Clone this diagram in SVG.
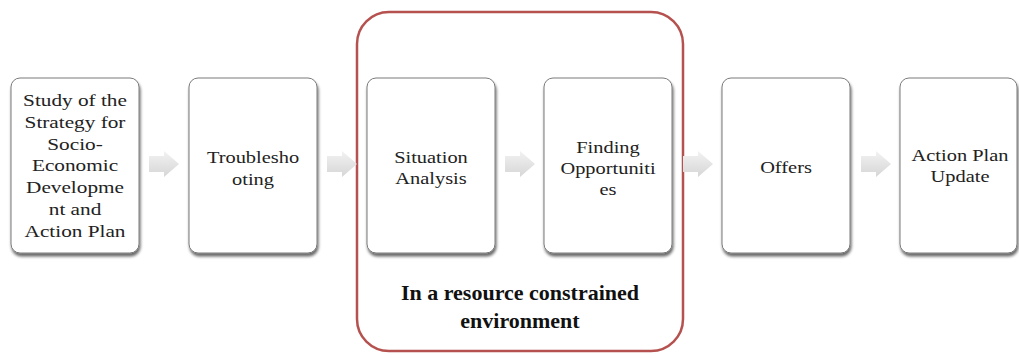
<svg xmlns="http://www.w3.org/2000/svg" width="1019" height="358" viewBox="0 0 1019 358">
<style>
.box{fill:#fff;stroke:#7a7a7a;stroke-width:1;filter:url(#sh)}
.t{font-size:17px;fill:#222;text-anchor:middle}
.b{font-size:22px;font-weight:bold;fill:#111;text-anchor:middle}
.arr{fill:url(#ag)}
</style>
<defs>
<filter id="sh" x="-10%" y="-10%" width="125%" height="125%">
<feGaussianBlur in="SourceAlpha" stdDeviation="1.5"/>
<feOffset dx="1" dy="2.5" result="o"/>
<feComponentTransfer><feFuncA type="linear" slope="0.6"/></feComponentTransfer>
<feMerge><feMergeNode/><feMergeNode in="SourceGraphic"/></feMerge>
</filter>
<linearGradient id="ag" x1="0" y1="0" x2="0" y2="1">
<stop offset="0" stop-color="#f2f2f2"/>
<stop offset="1" stop-color="#d6d6d6"/>
</linearGradient>
<path id="ar" d="M0,-8 H15 V-13 L30,0 L15,13 V8 H0 Z"/>
</defs>
<rect width="1019" height="358" fill="#fff"/>
<rect x="357" y="12" width="326" height="339" rx="32" fill="none" stroke="#b5524f" stroke-width="2.5"/>
<g id="connectors">
<use href="#ar" class="arr" x="149" y="164"/>
<use href="#ar" class="arr" x="327" y="164"/>
<use href="#ar" class="arr" x="505" y="164"/>
<use href="#ar" class="arr" x="683" y="164"/>
<use href="#ar" class="arr" x="861" y="164"/>
</g>
<g font-family="'Liberation Serif', 'Times New Roman', serif">
<g id="n1">
<rect class="box" x="11" y="78" width="128" height="175" rx="9"/>
<g transform="translate(75,0) scale(1.25,1)">
<text class="t" x="0" y="106">Study of the</text>
<text class="t" x="0" y="128">Strategy for</text>
<text class="t" x="0" y="150">Socio-</text>
<text class="t" x="0" y="171">Economic</text>
<text class="t" x="0" y="193">Developme</text>
<text class="t" x="0" y="215">nt and</text>
<text class="t" x="0" y="237">Action Plan</text>
</g>
</g>
<g id="n2">
<rect class="box" x="189" y="78" width="128" height="175" rx="9"/>
<g transform="translate(253,0) scale(1.2,1)">
<text class="t" x="0" y="163">Troublesho</text>
<text class="t" x="0" y="185">oting</text>
</g>
</g>
<g id="n3">
<rect class="box" x="367" y="78" width="128" height="175" rx="9"/>
<g transform="translate(431,0) scale(1.2,1)">
<text class="t" x="0" y="163">Situation</text>
<text class="t" x="0" y="184">Analysis</text>
</g>
</g>
<g id="n4">
<rect class="box" x="544" y="78" width="128" height="175" rx="9"/>
<g transform="translate(608,0) scale(1.2,1)">
<text class="t" x="0" y="153">Finding</text>
<text class="t" x="0" y="174">Opportuniti</text>
<text class="t" x="0" y="195">es</text>
</g>
</g>
<g id="n5">
<rect class="box" x="722" y="78" width="128" height="175" rx="9"/>
<g transform="translate(786,0) scale(1.2,1)">
<text class="t" x="0" y="173">Offers</text>
</g>
</g>
<g id="n6">
<rect class="box" x="900" y="78" width="117" height="175" rx="9"/>
<g transform="translate(960,0) scale(1.2,1)">
<text class="t" x="0" y="161">Action Plan</text>
<text class="t" x="0" y="182">Update</text>
</g>
</g>
<g id="label">
<text class="b" x="520" y="300">In a resource constrained</text>
<text class="b" x="520" y="328">environment</text>
</g>
</g>
</svg>
